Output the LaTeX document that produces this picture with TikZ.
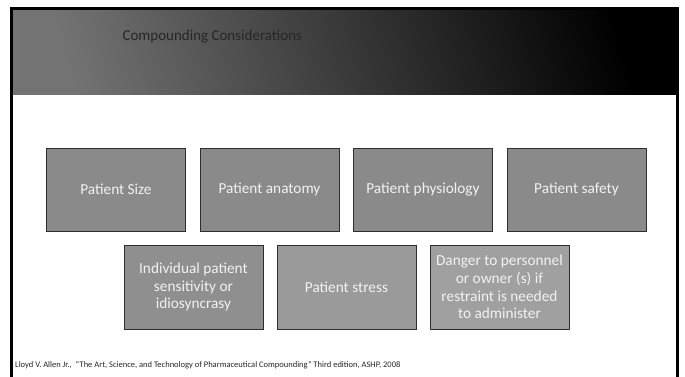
\documentclass[tikz,border=0pt]{standalone}
\usepackage{fontspec}
\setmainfont{Carlito}
\definecolor{boxA}{HTML}{8A8A8A}
\definecolor{boxB}{HTML}{8F8F8F}
\definecolor{boxC}{HTML}{9A9A9A}
\definecolor{boxD}{HTML}{A0A0A0}
\definecolor{edge}{HTML}{2E2E2E}
\definecolor{txt}{HTML}{F2F2F2}
\definecolor{hdlight}{HTML}{737373}
\definecolor{titlec}{HTML}{262626}
\begin{document}
\begin{tikzpicture}[x=1pt,y=-1pt,
  card/.style={draw=edge,line width=0.9pt,minimum width=139pt,minimum height=83pt,
    inner sep=0pt,text=txt,font=\fontsize{15.3}{17.6}\selectfont,align=center,anchor=north west}]
\useasboundingbox (0,0) rectangle (685,377);
\clip (0,0) rectangle (685,377);
\fill[white] (0,0) rectangle (685,377);
% header
\shade[shading=axis,left color=hdlight,right color=black,shading angle=105] (13,10) rectangle (676,95);
% frame
\draw[black,line width=3pt] (11.5,420) -- (11.5,8.5) -- (677.5,8.5) -- (677.5,420);
\node[anchor=west,text=titlec,font=\fontsize{15}{18}\selectfont] (title) at (119,37) {Compounding Considerations};
% row 1
\node[card,fill=boxA] (b1) at (46,147.5) {Patient Size};
\node[card,fill=boxA] (b2) at (199.5,147.5) {Patient anatomy};
\node[card,fill=boxA] (b3) at (353,147.5) {Patient physiology};
\node[card,fill=boxA] (b4) at (506.5,147.5) {Patient safety};
% row 2
\node[card,fill=boxB,minimum height=84pt] (b5) at (123.5,244.5) {Individual patient\\sensitivity or\\idiosyncrasy};
\node[card,fill=boxC,minimum height=84pt] (b6) at (276.5,244.5) {Patient stress};
\node[card,fill=boxD,minimum height=84pt] (b7) at (429.5,244.5) {Danger to personnel\\or owner (s) if\\restraint is needed\\to administer};
% footnote
\node[anchor=west,text=black!85,font=\fontsize{8.5}{10}\selectfont,inner sep=0pt] (foot) at (15,365.5) {Lloyd V. Allen Jr.,\ \ ``The Art, Science, and Technology of Pharmaceutical Compounding'' Third edition, ASHP, 2008};
\end{tikzpicture}
\end{document}
